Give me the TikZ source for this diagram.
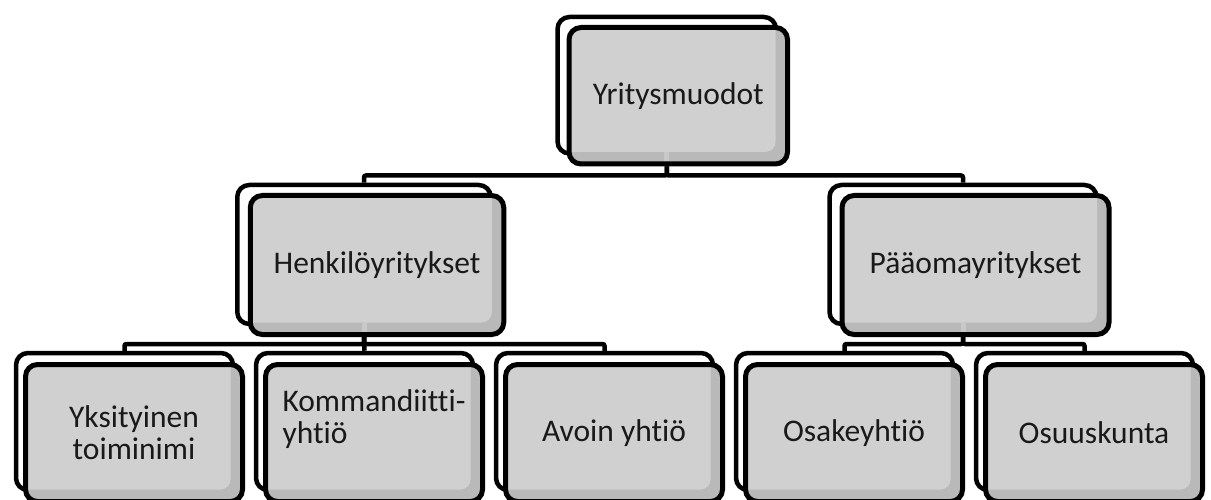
\documentclass[tikz,border=0pt]{standalone}
\usepackage{fontspec}
\setmainfont{Carlito}[Ligatures=NoCommon]
\definecolor{boxgray}{HTML}{D0D0D0}
\definecolor{bandgray}{HTML}{B9B9B9}
\definecolor{stripegray}{HTML}{C8C8C8}
\tikzset{
  backbox/.style={draw=black, line width=4.5pt, fill=white, rounded corners=12pt, inner sep=0pt},
  frontbox/.style={draw=black, line width=5pt, fill=bandgray, rounded corners=12pt, inner sep=0pt,
    font=\fontsize{31.5}{32}\selectfont, text=black!90, align=center,
    path picture={\fill[boxgray, rounded corners=10pt]
      ([xshift=-20pt,yshift=20pt]path picture bounding box.north west) rectangle
      ([xshift=-12pt,yshift=12pt]path picture bounding box.south east);}},
  conn/.style={draw=black, line width=4.5pt, rounded corners=2pt},
  stripe/.style={draw=stripegray, line width=5pt},
  topsize/.style={minimum width=218.5pt, minimum height=136.5pt},
  midsize/.style={minimum width=253.5pt, minimum height=139pt},
  midsizeB/.style={minimum width=267pt, minimum height=139pt},
  lowsize/.style={minimum width=217pt, minimum height=137pt},
}
\begin{document}
\begin{tikzpicture}[x=1pt,y=-1pt]
\useasboundingbox (0,0) rectangle (1211,500);
\clip (0,0) rectangle (1211,500);

% top level
\node[backbox, topsize] (topB) at (666.75,85.25) {};
\node[frontbox, topsize] (top) at (678.25,95.75) {Yritysmuodot};

% second level
\node[backbox, midsize] (henB) at (364,254.5) {};
\node[frontbox, midsize] (hen) at (377,265) {Henkilöyritykset};
\node[backbox, midsizeB] (paaB) at (963,254.5) {};
\node[frontbox, midsizeB] (paa) at (975.5,265) {Pääomayritykset};

% third level
\node[backbox, lowsize] (c1B) at (124.5,421.5) {};
\node[frontbox, lowsize] (c1) at (134,433) {Yksityinen\\toiminimi};
\node[backbox, lowsize] (c2B) at (364.5,421.5) {};
\node[frontbox, lowsize, align=left] (c2) at (374,433) {Kommandiitti-\\yhtiö\\\mbox{}};
\node[backbox, lowsize] (c3B) at (604.5,421.5) {};
\node[frontbox, lowsize] (c3) at (614,433) {Avoin yhtiö};
\node[backbox, lowsize] (c4B) at (844.5,421.5) {};
\node[frontbox, lowsize] (c4) at (854,433) {Osakeyhtiö};
\node[backbox, lowsize] (c5B) at (1084.5,421.5) {};
\node[frontbox, lowsize] (c5) at (1094,433) {Osuuskunta};

% bus levels
\coordinate (bus1) at (0,175.5);
\coordinate (bus2) at (0,344);

% light stripes inside parent boxes (connector seen through the shaded band)
\draw[stripe] ([yshift=5pt]top.south -| topB) -- ([yshift=14pt]top.south -| topB);
\draw[stripe] ([yshift=5pt]hen.south -| henB) -- ([yshift=14pt]hen.south -| henB);
\draw[stripe] ([yshift=5pt]paa.south -| paaB) -- ([yshift=14pt]paa.south -| paaB);

% connectors level 1
\draw[conn] (top.south -| topB) -- (topB |- bus1) -- (henB |- bus1) -- (henB.north);
\draw[conn] (top.south -| topB) -- (topB |- bus1) -- (paaB |- bus1) -- (paaB.north);

% connectors level 2 (left)
\draw[conn] (hen.south -| henB) -- (henB |- bus2) -- (c1B |- bus2) -- (c1B.north);
\draw[conn] (hen.south -| henB) -- (henB |- bus2) -- (c3B |- bus2) -- (c3B.north);
\draw[conn] (hen.south -| henB) -- (c2B.north);

% connectors level 2 (right)
\draw[conn] (paa.south -| paaB) -- (paaB |- bus2) -- (c4B |- bus2) -- (c4B.north);
\draw[conn] (paa.south -| paaB) -- (paaB |- bus2) -- (c5B |- bus2) -- (c5B.north);
\end{tikzpicture}
\end{document}
